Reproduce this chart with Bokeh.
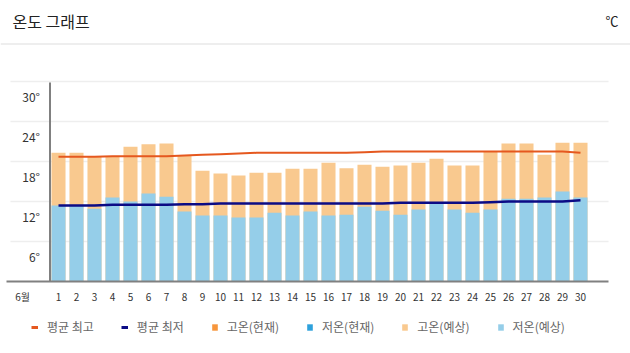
from bokeh.plotting import figure
from bokeh.layouts import column
from bokeh.models import Range1d, FixedTicker, Legend, LegendItem, ColumnDataSource
from bokeh.core.properties import value
from bokeh.embed import file_html
from bokeh.resources import INLINE

# ---------------- data ----------------
days = list(range(1, 31))
month_label = "6월"
hi_forecast = [19.3, 19.3, 18.7, 18.7, 20.2, 20.6, 20.7, 18.9, 16.6, 16.2,
               15.9, 16.3, 16.3, 16.9, 16.9, 17.8, 17.0, 17.5, 17.2, 17.4,
               17.8, 18.4, 17.4, 17.4, 19.5, 20.7, 20.7, 19.0, 20.8, 20.8]
lo_forecast = [11.4, 11.4, 10.9, 12.6, 12.0, 13.2, 12.7, 10.5, 9.9, 9.9,
               9.6, 9.6, 10.3, 9.9, 10.5, 9.9, 10.0, 11.2, 10.6, 10.0,
               10.8, 11.7, 10.8, 10.3, 10.8, 12.4, 12.4, 12.6, 13.5, 12.6]
avg_hi = [18.7, 18.7, 18.7, 18.8, 18.8, 18.8, 18.8, 18.9, 19.0, 19.1,
          19.2, 19.3, 19.3, 19.3, 19.3, 19.3, 19.3, 19.4, 19.5, 19.5,
          19.5, 19.5, 19.5, 19.5, 19.5, 19.5, 19.5, 19.5, 19.5, 19.3]
avg_lo = [11.4, 11.4, 11.4, 11.5, 11.5, 11.5, 11.5, 11.6, 11.6, 11.7,
          11.7, 11.7, 11.7, 11.7, 11.7, 11.7, 11.7, 11.7, 11.7, 11.8,
          11.8, 11.8, 11.8, 11.8, 11.9, 12.0, 12.0, 12.0, 12.0, 12.2]
y_ticks = [6, 12, 18, 24, 30]
y_tick_labels = ["6°", "12°", "18°", "24°", "30°"]
title_text = "온도 그래프"
unit_text = "℃"
legend_labels = ["평균 최고", "평균 최저", "고온(현재)", "저온(현재)", "고온(예상)", "저온(예상)"]

# ---------------- layout constants ----------------
W, H = 630, 353
FRAME_H = 283
AXIS_H = 20
MAIN_H = FRAME_H + AXIS_H
LEG_H = H - MAIN_H
PX_DAY = 18.0
DAY1_PX = 58.0
PX_DEG = 200.0 / 30.0

def xd(px):
    return 1 + (px - DAY1_PX) / PX_DAY

def yd(py):
    # py measured from top of canvas, baseline (0 deg) at 281
    return (281 - py) / PX_DEG

FONT = "Noto Sans CJK KR"

x_range = Range1d(xd(0), xd(W))
y_range = Range1d(-2 / PX_DEG, -2 / PX_DEG + FRAME_H / PX_DEG)

p = figure(frame_width=W, frame_height=FRAME_H, x_range=x_range, y_range=y_range,
           output_backend="svg", toolbar_location=None,
           y_axis_location=None,
           min_border_left=0, min_border_right=0, min_border_top=0,
           min_border_bottom=AXIS_H)
p.outline_line_color = None
p.grid.visible = False
p.background_fill_color = "white"
p.border_fill_color = "white"

# header
p.text(x=[xd(12)], y=[yd(20)], text=[title_text], text_font=value(FONT),
       text_font_size="16px", text_color="#222222", text_baseline="middle",
       text_align="left")
p.text(x=[xd(618)], y=[yd(20)], text=[unit_text], text_font=value(FONT),
       text_font_size="13px", text_color="#222222", text_baseline="middle",
       text_align="right")
p.segment(x0=[xd(0)], y0=[yd(43.5)], x1=[xd(W)], y1=[yd(43.5)],
          line_color="#dddddd", line_width=1)

# grid lines
p.segment(x0=[xd(10)] * len(y_ticks), y0=y_ticks,
          x1=[xd(608)] * len(y_ticks), y1=y_ticks,
          line_color="#eeeeee", line_width=1.5)

# bars
src = ColumnDataSource(dict(day=days, hi=hi_forecast, lo=lo_forecast,
                            ahi=avg_hi, alo=avg_lo))
p.vbar(x="day", top="hi", bottom=0, width=0.78, source=src,
       fill_color="#f9c98f", line_color=None)
p.vbar(x="day", top="lo", bottom=0, width=0.78, source=src,
       fill_color="#95cee9", line_color=None)

# average lines
p.line(x="day", y="ahi", source=src, line_color="#e5581f", line_width=2)
p.line(x="day", y="alo", source=src, line_color="#0b0b85", line_width=2.5)

# axes lines
p.segment(x0=[xd(49.5)], y0=[0], x1=[xd(49.5)], y1=[yd(82)],
          line_color="#808080", line_width=2)
p.segment(x0=[xd(6)], y0=[0], x1=[xd(608)], y1=[0],
          line_color="#808080", line_width=2)

# y tick labels (drawn below the grid lines, as in the reference)
p.text(x=[xd(39.5)] * len(y_ticks), y=y_ticks, text=y_tick_labels,
       y_offset=15, text_font=value(FONT), text_font_size="12px",
       text_color="#333333", text_align="right", text_baseline="middle")

# x axis
ax = p.xaxis[0]
ax.ticker = FixedTicker(ticks=[-1] + days)
ax.major_label_overrides = {-1: month_label}
ax.axis_line_color = None
ax.major_tick_line_color = None
ax.minor_tick_line_color = None
ax.major_tick_out = 0
ax.major_tick_in = 0
ax.minor_tick_out = 0
ax.minor_tick_in = 0
ax.major_label_standoff = 5
ax.major_label_text_font = FONT
ax.major_label_text_font_size = "10px"
ax.major_label_text_color = "#333333"

# ---------------- legend strip ----------------
q = figure(width=W, height=LEG_H, x_range=Range1d(0, 1), y_range=Range1d(0, 1),
           output_backend="svg", toolbar_location=None,
           x_axis_location=None, y_axis_location=None,
           min_border_left=0, min_border_right=0, min_border_top=0,
           min_border_bottom=0)
q.outline_line_color = None
q.grid.visible = False
q.border_fill_color = "white"

# legend-only renderers, placed outside the visible range
off = ColumnDataSource(dict(x=[-5, -4], y=[-5, -5]))
lg_hi = q.line(x="x", y="y", source=off, line_color="#e5581f", line_width=3)
lg_lo = q.line(x="x", y="y", source=off, line_color="#0b0b85", line_width=3)
lg_cur_hi = q.vbar(x="x", top="y", width=0.5, source=off, fill_color="#f7963c", line_color=None)
lg_cur_lo = q.vbar(x="x", top="y", width=0.5, source=off, fill_color="#2ea1dc", line_color=None)
lg_fc_hi = q.vbar(x="x", top="y", width=0.5, source=off, fill_color="#f9c98f", line_color=None)
lg_fc_lo = q.vbar(x="x", top="y", width=0.5, source=off, fill_color="#95cee9", line_color=None)

legend = Legend(items=[
    LegendItem(label=legend_labels[0], renderers=[lg_hi]),
    LegendItem(label=legend_labels[1], renderers=[lg_lo]),
    LegendItem(label=legend_labels[2], renderers=[lg_cur_hi]),
    LegendItem(label=legend_labels[3], renderers=[lg_cur_lo]),
    LegendItem(label=legend_labels[4], renderers=[lg_fc_hi]),
    LegendItem(label=legend_labels[5], renderers=[lg_fc_lo]),
], orientation="horizontal", location=(31, 21))
legend.border_line_color = None
legend.background_fill_alpha = 0
legend.margin = 0
legend.padding = 0
legend.spacing = 27
legend.glyph_width = 7
legend.glyph_height = 8
legend.label_standoff = 9
legend.label_text_font = FONT
legend.label_text_font_size = "12px"
legend.label_text_color = "#666666"
legend.label_height = 14
q.add_layout(legend, "center")

layout = column(p, q, spacing=0)
open("out.html", "w").write(file_html(layout, INLINE))
